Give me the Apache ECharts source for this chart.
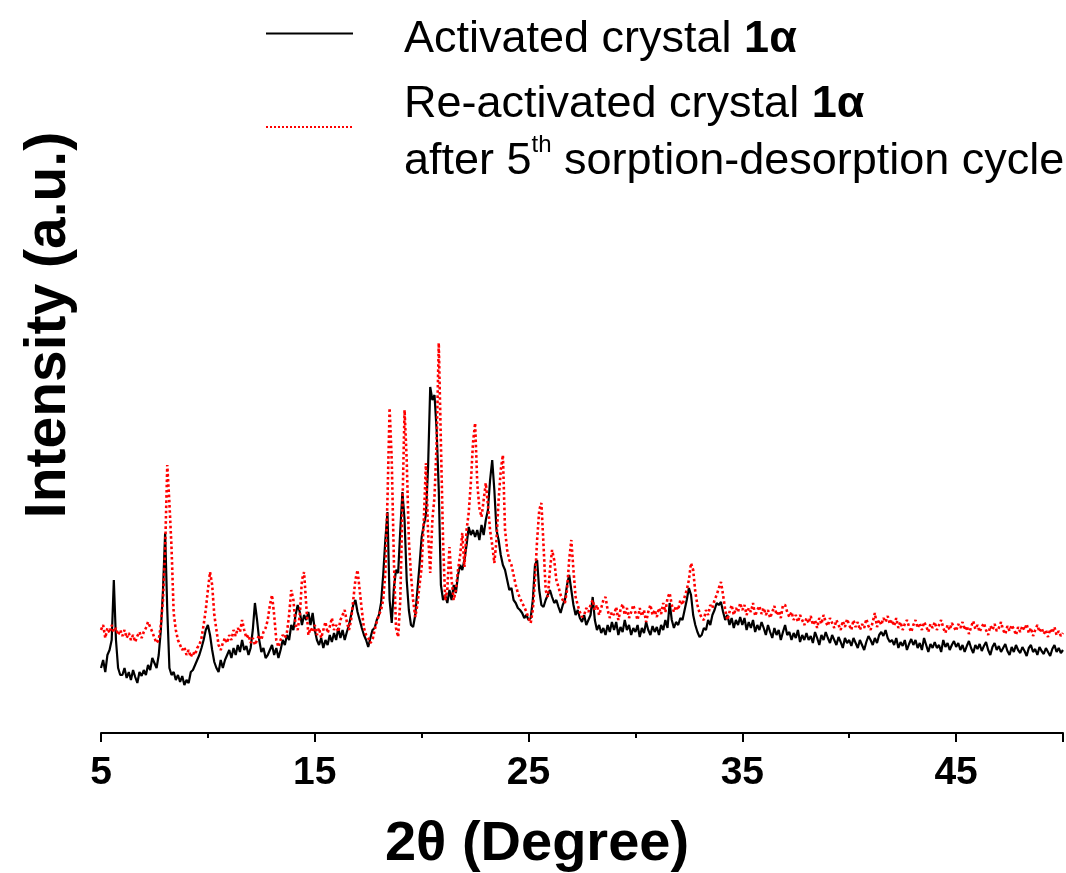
<!DOCTYPE html>
<html>
<head>
<meta charset="utf-8">
<script src="https://cdn.jsdelivr.net/npm/echarts@6/dist/echarts.min.js"></script>
<style>
html,body{margin:0;padding:0;background:#fff;}
#chart{width:1066px;height:873px;}
</style>
</head>
<body>
<div id="chart"></div>
<script>
// 2θ grid: first angle and step (degrees)
const twoThetaStart = 5.0;
const twoThetaStep = 0.1;
const xTickLabels = [5, 15, 25, 35, 45];
const seriesNames = ['Activated crystal 1α', 'Re-activated crystal 1α after 5th sorption-desorption cycle'];

// Intensity (a.u.) of activated crystal 1α, 5.0° .. 50.0° every 0.1°
const activated = [
 65, 73, 61, 78, 83, 93,153, 93, 65, 58,
 58, 65, 55, 61, 53, 63, 56, 50, 61, 57,
 63, 58, 68, 63, 75, 70, 65, 78,103,143,
200,123, 65, 58, 61, 53, 58, 51, 57, 48,
 53, 50, 61, 63, 68, 73, 78, 85, 93,103,
108, 98, 83, 71, 65, 61, 73, 65, 73, 78,
 83, 75, 85, 78, 88, 81, 93, 83, 87, 78,
 85,103,130,113, 93, 81, 85, 75, 78, 83,
 88, 78, 85, 75, 83, 93, 88, 98, 93,108,
103,118,128,121,108,118,113,121,108,120,
103, 93, 88, 95, 85, 93, 88, 98, 91,100,
 93,105, 95,103, 93,101,108,118,128,133,
121,113,105, 98, 93, 86, 95,103,105,113,
118,130,158,193,221,133,110,145,163,160,
203,241,213,153,123,108,106,118,143,168,
196,208,218,266,346,333,338,303,243,148,
133,138,130,143,133,148,140,158,168,163,
173,188,206,198,203,196,203,193,208,198,
213,223,253,273,243,203,193,178,168,163,
153,143,145,133,130,125,123,120,115,118,
113,115,133,168,173,143,128,126,133,138,
143,136,130,133,126,120,128,133,148,158,
143,128,118,123,115,111,118,108,113,118,
136,113,103,108,100,105, 98,108,101,111,
103,111, 98,106,101,113,103,108, 98,105,
101,108, 96,105,100,111,103, 98,107,101,
106, 98,108,103,113,105,130,113,105,111,
108,115,113,123,133,145,138,118,108,101,
 96, 98,105,103,113,108,118,123,130,128,
131,121,113,118,108,115,105,113,108,116,
108,115,103,111,105,113,101,108,103,111,
105, 98,108,101, 95,105, 98,103, 93,101,
108, 98,101, 93,100, 95,103, 91, 98, 93,
100, 93, 97, 90,101, 95, 88, 98, 93,101,
 95, 90, 98, 93, 88, 96, 91, 85, 95, 90,
 93, 87, 95, 90, 85, 93, 88, 83, 91, 97,
 93, 88, 95, 90, 98,101, 97,103, 95, 91,
 93, 88, 95, 85, 91, 87, 93, 83, 89, 94,
 88, 93, 85, 90, 83, 95, 88, 81, 89, 85,
 91, 85, 88, 81, 93, 86, 90, 83, 88, 92,
 86, 90, 83, 88, 81, 87, 92, 85, 80, 88,
 84, 89, 82, 87, 91, 83, 78, 86, 90, 83,
 87, 81, 85, 89, 82, 78, 86, 81, 88, 83,
 80, 86, 82, 77, 85, 88, 81, 84, 78, 86,
 82, 79, 85, 81, 77, 84, 88, 81, 85, 80, 83
];

// Intensity (a.u.) of re-activated crystal 1α after 5th cycle, 5.0° .. 50.0° every 0.1°
const reactivated = [
103,108, 95,105,100,108,101,105, 98,103,
 97,103, 95,100, 93, 98, 91, 97,101, 95,
101,105,111,106,101, 95, 90, 93,108,133,
183,268,230,185,120,103, 93, 88, 83, 86,
 78, 83, 76, 81, 78, 85, 88, 95,108,123,
143,161,148,118,103, 88, 83, 90, 95, 90,
 98, 93,103, 97,105,101,113,103, 95, 98,
 90, 95, 88, 93, 98, 93,101,105,113,128,
138,118, 93, 86, 93, 98, 95,101,118,143,
133,108,103,118,153,161,128, 98,105,101,
108, 98,105, 95,103,111,100,106,115,103,
108,101,113,118,123,111,103,113,133,153,
163,143,123,105, 98, 95, 90, 93,103,111,
118,123,133,160,233,325,273,173,105, 96,
133,226,323,273,193,158,133,116,128,148,
166,213,270,200,160,213,236,290,390,290,
193,133,143,186,153,133,143,163,178,200,
166,203,220,250,290,310,250,225,216,233,
250,228,203,188,170,193,233,263,278,203,
183,173,168,158,148,140,135,130,126,121,
115,110,123,153,193,223,230,188,143,136,
163,183,173,153,146,138,133,130,143,173,
193,163,136,128,121,116,118,125,121,128,
133,123,128,118,125,133,136,123,115,121,
118,126,113,123,129,118,125,115,121,128,
120,113,125,117,123,111,121,128,118,123,
116,125,119,130,121,135,140,128,121,127,
123,133,128,136,143,153,170,163,141,128,
120,115,113,123,118,128,125,133,138,145,
151,138,123,113,121,128,118,125,121,130,
123,128,118,125,121,130,117,123,127,119,
125,118,123,115,121,127,118,122,115,128,
128,121,116,121,113,118,111,118,113,108,
115,110,117,108,113,105,115,109,118,111,
107,115,110,105,113,108,103,112,106,114,
108,103,113,106,111,103,109,105,114,107,
103,111,120,106,113,108,115,111,117,109,
113,107,115,105,111,103,109,113,106,101,
108,113,105,110,103,111,107,101,109,105,
111,103,108,113,105,100,108,103,110,106,
102,109,105,111,103,107, 99,106,112,104,
108,101,106,110,103, 98,107,103,109,102,
105,111,103, 99,107,102,108,104, 98,106,
101,107,103,109,100,105, 97,103,108,101,
105, 99,103, 96,104,100,106, 98,102, 97,100
];

function toPairs(arr) {
  return arr.map((v, i) => [+(twoThetaStart + i * twoThetaStep).toFixed(1), v]);
}

const FONT = '"Liberation Sans", Arial, Helvetica, sans-serif';
const chart = echarts.init(document.getElementById('chart'), null, {renderer: 'canvas'});

chart.setOption({
  animation: false,
  backgroundColor: '#fff',
  grid: {left: 101, right: 0, top: 333, bottom: 140, containLabel: false},
  legend: {
    orient: 'vertical',
    left: 265,
    top: -1,
    padding: 0,
    itemWidth: 87,
    itemHeight: 14,
    itemGap: -4,
    selectedMode: false,
    data: seriesNames,
    itemStyle: {opacity: 0},
    formatter: function (name) {
      if (name === seriesNames[0]) return 'Activated crystal {b|1α}';
      return 'Re-activated crystal {b|1α}\nafter 5{sup|th} sorption-desorption cycle';
    },
    textStyle: {
      fontFamily: FONT, fontSize: 45, color: '#000', lineHeight: 57,
      padding: [12, 0, 0, 46],
      rich: {
        b: {fontFamily: FONT, fontSize: 45, fontWeight: 'bold', color: '#000', lineHeight: 57},
        sup: {fontFamily: FONT, fontSize: 24, color: '#000', lineHeight: 40, verticalAlign: 'top'}
      }
    }
  },
  xAxis: {
    type: 'value',
    min: 5, max: 50, interval: 10,
    axisLine: {show: true, lineStyle: {color: '#000', width: 2}},
    axisTick: {show: true, length: 9, lineStyle: {color: '#000', width: 2}},
    minorTick: {show: true, splitNumber: 2, length: 5, lineStyle: {color: '#000', width: 2}},
    splitLine: {show: false},
    minorSplitLine: {show: false},
    axisLabel: {
      fontFamily: FONT, fontSize: 39, fontWeight: 'bold', color: '#000', margin: 21,
      formatter: function (v) { return xTickLabels.indexOf(v) >= 0 ? String(v) : ''; }
    }
  },
  yAxis: {
    type: 'value', min: 0, max: 400,
    axisLine: {show: false}, axisTick: {show: false}, axisLabel: {show: false},
    splitLine: {show: false}
  },
  graphic: [
    {type: 'text', x: 537, y: 845, silent: true,
     style: {text: '2θ (Degree)', fontFamily: FONT, fontSize: 56, fontWeight: 'bold', fill: '#000',
             align: 'center', verticalAlign: 'middle', textAlign: 'center', textVerticalAlign: 'middle'}},
    {type: 'text', x: 49, y: 325, rotation: Math.PI / 2, silent: true,
     style: {text: 'Intensity (a.u.)', fontFamily: FONT, fontSize: 57, fontWeight: 'bold', fill: '#000',
             align: 'center', verticalAlign: 'middle', textAlign: 'center', textVerticalAlign: 'middle'}}
  ],
  series: [
    {name: seriesNames[0], type: 'line', data: toPairs(activated), symbol: 'none', smooth: false,
     lineStyle: {color: '#000', width: 2.2}, itemStyle: {color: '#000'}, z: 2},
    {name: seriesNames[1], type: 'line', data: toPairs(reactivated), symbol: 'none', smooth: false,
     lineStyle: {color: '#ff0000', width: 2.6, type: 'dotted'}, itemStyle: {color: '#ff0000'}, z: 3}
  ]
});
</script>
</body>
</html>
